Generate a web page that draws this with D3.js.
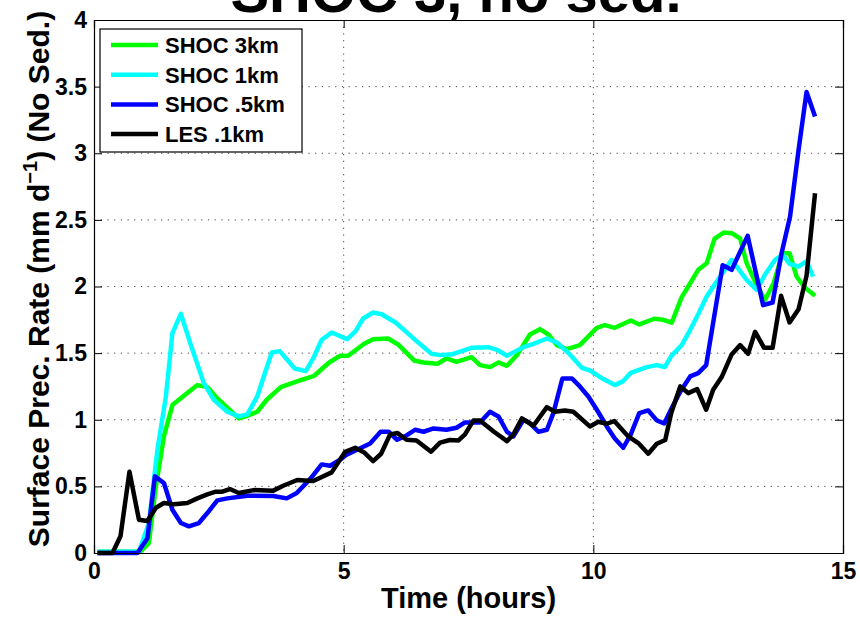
<!DOCTYPE html>
<html>
<head>
<meta charset="utf-8">
<script src="https://cdn.jsdelivr.net/npm/d3@7"></script>
<style>
  body { margin: 0; background: #fff; }
  svg text { font-family: "Liberation Sans", Arial, Helvetica, sans-serif; font-weight: bold; }
</style>
</head>
<body>
<svg id="chart" width="860" height="618"></svg>
<script>
// series labels and colours (legend order = draw order)
const seriesNames = ["SHOC 3km", "SHOC 1km", "SHOC .5km", "LES .1km"];
const seriesColors = ["#00ff00", "#00ffff", "#0000ff", "#000000"];

// SHOC 3km
const hours3km = [0.07,0.93,1.10,1.23,1.40,1.57,1.80,2.07,2.27,2.47,2.67,2.90,3.07,3.27,3.46,3.74,4.08,4.41,4.71,4.93,5.09,5.41,5.59,5.89,6.09,6.41,6.60,6.88,7.06,7.26,7.56,7.73,7.93,8.10,8.27,8.47,8.73,8.93,9.10,9.27,9.47,9.73,10.07,10.23,10.43,10.75,10.92,11.22,11.40,11.57,11.67,11.77,11.90,12.10,12.27,12.43,12.61,12.77,12.94,13.07,13.27,13.44,13.61,13.79,13.93,14.07,14.24,14.44];
const rate3km  = [0.01,0.01,0.075,0.475,0.875,1.11,1.18,1.26,1.245,1.16,1.09,1.01,1.03,1.06,1.15,1.245,1.29,1.33,1.43,1.48,1.48,1.57,1.605,1.61,1.565,1.445,1.43,1.42,1.46,1.435,1.47,1.41,1.395,1.43,1.405,1.485,1.64,1.68,1.64,1.56,1.53,1.56,1.69,1.71,1.69,1.745,1.715,1.758,1.75,1.728,1.825,1.92,2.0,2.125,2.175,2.36,2.405,2.40,2.36,2.175,2.01,1.90,2.025,2.25,2.25,2.075,1.99,1.93];

// SHOC 1km
const hours1km = [0.07,0.90,1.10,1.27,1.44,1.57,1.74,1.94,2.20,2.40,2.67,2.90,3.07,3.27,3.40,3.56,3.72,4.02,4.24,4.39,4.56,4.76,5.07,5.24,5.39,5.59,5.76,6.04,6.28,6.46,6.76,6.93,7.18,7.56,7.90,8.07,8.27,8.60,8.80,9.07,9.27,9.53,9.77,9.93,10.20,10.43,10.60,10.75,11.07,11.27,11.43,11.56,11.77,11.94,12.11,12.27,12.54,12.77,13.07,13.27,13.44,13.64,13.79,13.93,14.11,14.27,14.40];
const rate1km  = [0.01,0.01,0.225,0.775,1.175,1.65,1.795,1.56,1.275,1.15,1.06,1.025,1.04,1.175,1.325,1.505,1.515,1.385,1.365,1.46,1.60,1.655,1.605,1.665,1.76,1.805,1.792,1.73,1.65,1.59,1.495,1.485,1.492,1.54,1.545,1.525,1.48,1.545,1.57,1.61,1.58,1.49,1.39,1.37,1.305,1.26,1.29,1.352,1.395,1.41,1.395,1.478,1.56,1.675,1.80,1.925,2.075,2.20,2.05,1.975,2.09,2.20,2.24,2.17,2.15,2.19,2.075];

// SHOC .5km
const hours05km = [0.07,0.87,1.07,1.22,1.40,1.57,1.74,1.90,2.10,2.27,2.47,2.67,3.07,3.59,3.86,4.06,4.34,4.56,4.73,4.93,5.05,5.30,5.53,5.74,5.90,6.07,6.26,6.43,6.60,6.80,7.06,7.26,7.43,7.73,7.93,8.10,8.27,8.40,8.60,8.73,8.90,9.07,9.20,9.38,9.57,9.73,9.90,10.07,10.27,10.43,10.60,10.75,10.92,11.10,11.27,11.42,11.56,11.74,11.94,12.10,12.26,12.59,12.77,13.09,13.40,13.59,13.77,13.94,14.11,14.27,14.44];
const rate05km  = [0,0,0.11,0.575,0.525,0.325,0.225,0.20,0.225,0.30,0.395,0.41,0.43,0.428,0.41,0.45,0.56,0.665,0.655,0.70,0.735,0.78,0.822,0.91,0.91,0.85,0.882,0.925,0.91,0.935,0.925,0.94,0.98,0.98,1.06,1.025,0.91,0.875,1.0,0.975,0.91,0.925,1.05,1.31,1.31,1.25,1.175,1.075,0.95,0.86,0.79,0.89,1.05,1.07,0.995,0.972,1.08,1.21,1.325,1.35,1.41,2.16,2.125,2.38,1.86,1.88,2.25,2.525,3.025,3.46,3.275];

// LES .1km
const hoursLes = [0.07,0.37,0.53,0.71,0.90,1.07,1.24,1.40,1.60,1.87,2.07,2.27,2.44,2.57,2.72,2.90,3.20,3.59,3.79,4.07,4.39,4.76,5.03,5.23,5.41,5.59,5.75,5.93,6.08,6.26,6.46,6.75,6.93,7.13,7.30,7.43,7.60,7.73,8.01,8.27,8.40,8.57,8.80,9.07,9.23,9.43,9.60,9.93,10.10,10.27,10.42,10.70,10.90,11.10,11.27,11.44,11.56,11.74,11.90,12.08,12.26,12.40,12.57,12.77,12.94,13.10,13.24,13.42,13.59,13.76,13.93,14.11,14.27,14.44];
const rateLes  = [0,0,0.125,0.61,0.25,0.24,0.34,0.375,0.365,0.375,0.41,0.44,0.46,0.46,0.48,0.45,0.472,0.468,0.505,0.548,0.54,0.605,0.76,0.79,0.755,0.69,0.745,0.89,0.90,0.85,0.845,0.76,0.828,0.848,0.845,0.89,0.995,0.995,0.91,0.84,0.89,1.01,0.955,1.095,1.06,1.07,1.06,0.95,0.985,0.97,0.99,0.875,0.825,0.745,0.82,0.848,1.05,1.25,1.20,1.23,1.075,1.225,1.32,1.49,1.56,1.495,1.66,1.54,1.54,1.93,1.73,1.83,2.08,2.70];

// axis ticks
const xTicks = [0, 5, 10, 15];
const yTicks = [0, 0.5, 1, 1.5, 2, 2.5, 3, 3.5, 4];

const series = [
  {name: seriesNames[0], color: seriesColors[0], t: hours3km, v: rate3km},
  {name: seriesNames[1], color: seriesColors[1], t: hours1km, v: rate1km},
  {name: seriesNames[2], color: seriesColors[2], t: hours05km, v: rate05km},
  {name: seriesNames[3], color: seriesColors[3], t: hoursLes, v: rateLes}
];

const margin = {top: 20, right: 17, bottom: 65, left: 94};
const width = 860 - margin.left - margin.right;
const height = 618 - margin.top - margin.bottom;

const svg = d3.select("#chart");

// title (mostly cut off above the figure, as in the original)
svg.append("text")
  .attr("x", 456)
  .attr("y", 12)
  .attr("text-anchor", "middle")
  .style("font-size", "58px")
  .text("SHOC 3, no sed.");

const g = svg.append("g")
  .attr("transform", `translate(${margin.left},${margin.top})`);

const x = d3.scaleLinear().domain([0, 15]).range([0, width]);
const y = d3.scaleLinear().domain([0, 4]).range([height, 0]);

g.append("rect")
  .attr("width", width)
  .attr("height", height)
  .attr("fill", "#fff");

// dotted grid
g.selectAll(".vgrid")
  .data(xTicks.filter(d => d > 0 && d < 15))
  .enter().append("line")
  .attr("class", "vgrid")
  .attr("x1", d => x(d)).attr("x2", d => x(d))
  .attr("y1", 0).attr("y2", height)
  .attr("stroke", "#444")
  .attr("stroke-width", 1)
  .attr("stroke-dasharray", "1.2,5.5");

g.selectAll(".hgrid")
  .data(yTicks.filter(d => d > 0 && d < 4))
  .enter().append("line")
  .attr("class", "hgrid")
  .attr("x1", 0).attr("x2", width)
  .attr("y1", d => y(d)).attr("y2", d => y(d))
  .attr("stroke", "#444")
  .attr("stroke-width", 1)
  .attr("stroke-dasharray", "1.2,5.5");

// lines
const line = d3.line()
  .x(d => x(d[0]))
  .y(d => y(d[1]));

g.selectAll(".series")
  .data(series)
  .enter().append("path")
  .attr("class", "series")
  .attr("fill", "none")
  .attr("stroke", d => d.color)
  .attr("stroke-width", 4.5)
  .attr("stroke-linejoin", "round")
  .attr("d", d => line(d.t.map((t, i) => [t, d.v[i]])));

// axes, ticks pointing inwards like matlab
const fmt = d => String(d);

const xAxis = g.append("g")
  .attr("transform", `translate(0,${height})`)
  .call(d3.axisBottom(x).tickValues(xTicks).tickFormat(fmt).tickSize(-8).tickPadding(10));
const yAxis = g.append("g")
  .call(d3.axisLeft(y).tickValues(yTicks).tickFormat(fmt).tickSize(-8).tickPadding(7));
const xTop = g.append("g")
  .call(d3.axisTop(x).tickValues(xTicks).tickFormat("").tickSize(-8));
const yRight = g.append("g")
  .attr("transform", `translate(${width},0)`)
  .call(d3.axisRight(y).tickValues(yTicks).tickFormat("").tickSize(-8));

[xAxis, yAxis, xTop, yRight].forEach(a => {
  a.select(".domain").attr("stroke", "#000").attr("stroke-width", 1.2);
  a.selectAll(".tick line").attr("stroke", "#000");
  a.selectAll("text")
    .attr("fill", "#000")
    .style("font-size", "23px")
    .style("font-family", "'Liberation Sans', Arial, sans-serif")
    .style("font-weight", "bold");
});

// axis titles
svg.append("text")
  .attr("x", margin.left + width / 2)
  .attr("y", 608)
  .attr("text-anchor", "middle")
  .style("font-size", "29px")
  .text("Time (hours)");

const yLabel = svg.append("text")
  .attr("transform", `translate(49,${279}) rotate(-90)`)
  .attr("text-anchor", "middle")
  .style("font-size", "30px");
yLabel.append("tspan").text("Surface Prec. Rate (mm d");
yLabel.append("tspan").attr("dy", -12).style("font-size", "20px").text("\u22121");
yLabel.append("tspan").attr("dy", 12).text(") (No Sed.)");

// legend
const legend = g.append("g")
  .attr("transform", "translate(6,9)");

legend.append("rect")
  .attr("width", 202)
  .attr("height", 123)
  .attr("fill", "#fff")
  .attr("stroke", "#000")
  .attr("stroke-width", 1.2);

const items = legend.selectAll(".item")
  .data(series)
  .enter().append("g")
  .attr("class", "item")
  .attr("transform", (d, i) => `translate(0,${16 + i * 29.7})`);

items.append("line")
  .attr("x1", 11).attr("x2", 58)
  .attr("stroke", d => d.color)
  .attr("stroke-width", 4.5);

items.append("text")
  .attr("x", 65)
  .attr("y", 8)
  .style("font-size", "22px")
  .text(d => d.name);
</script>
</body>
</html>
